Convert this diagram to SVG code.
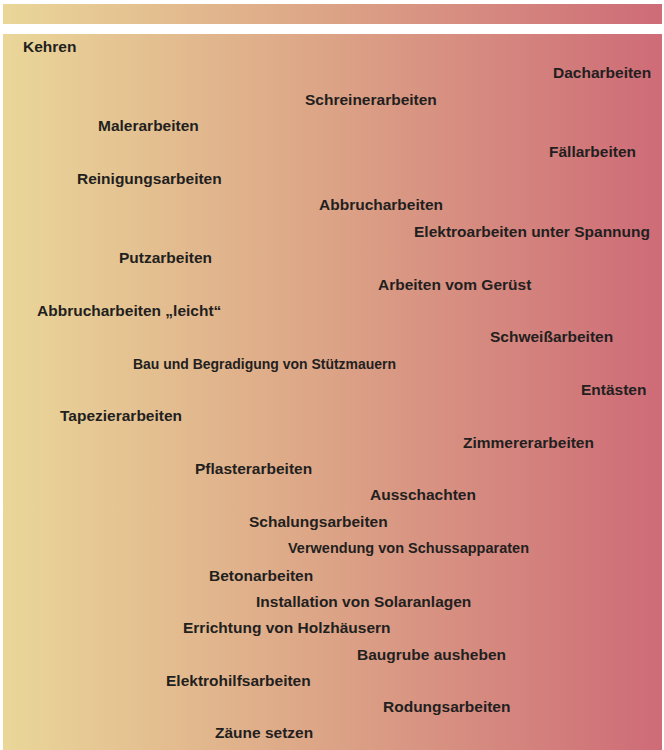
<svg xmlns="http://www.w3.org/2000/svg" width="664" height="750" viewBox="0 0 664 750">
<defs>
<linearGradient id="bg" x1="0" y1="0" x2="664" y2="0" gradientUnits="userSpaceOnUse">
<stop offset="0" stop-color="#EAD799"/>
<stop offset="0.5" stop-color="#DCA386"/>
<stop offset="1" stop-color="#CE6B77"/>
</linearGradient>
<style>
text{font-family:"Liberation Sans",Arial,sans-serif;font-weight:bold;font-size:15.5px;fill:#231F20}
</style>
</defs>
<rect x="3" y="4" width="659" height="20" fill="url(#bg)"/>
<rect x="3" y="34" width="659" height="716" fill="url(#bg)"/>
<g id="labels">
<g id="n1"><text x="23" y="52">Kehren</text></g>
<g id="n2"><text x="553" y="78">Dacharbeiten</text></g>
<g id="n3"><text x="305" y="105">Schreinerarbeiten</text></g>
<g id="n4"><text x="98" y="131">Malerarbeiten</text></g>
<g id="n5"><text x="549" y="157">Fällarbeiten</text></g>
<g id="n6"><text x="77" y="184">Reinigungsarbeiten</text></g>
<g id="n7"><text x="319" y="210">Abbrucharbeiten</text></g>
<g id="n8"><text x="414" y="237">Elektroarbeiten unter Spannung</text></g>
<g id="n9"><text x="119" y="263">Putzarbeiten</text></g>
<g id="n10"><text x="378" y="290">Arbeiten vom Gerüst</text></g>
<g id="n11"><text x="37" y="316">Abbrucharbeiten „leicht“</text></g>
<g id="n12"><text x="490" y="342">Schweißarbeiten</text></g>
<g id="n13"><text x="133" y="369" textLength="263" lengthAdjust="spacingAndGlyphs">Bau und Begradigung von Stützmauern</text></g>
<g id="n14"><text x="581" y="395">Entästen</text></g>
<g id="n15"><text x="60" y="421">Tapezierarbeiten</text></g>
<g id="n16"><text x="463" y="448">Zimmererarbeiten</text></g>
<g id="n17"><text x="195" y="474">Pflasterarbeiten</text></g>
<g id="n18"><text x="370" y="500">Ausschachten</text></g>
<g id="n19"><text x="249" y="527">Schalungsarbeiten</text></g>
<g id="n20"><text x="288" y="553" textLength="241" lengthAdjust="spacingAndGlyphs">Verwendung von Schussapparaten</text></g>
<g id="n21"><text x="209" y="581">Betonarbeiten</text></g>
<g id="n22"><text x="256" y="607">Installation von Solaranlagen</text></g>
<g id="n23"><text x="183" y="633">Errichtung von Holzhäusern</text></g>
<g id="n24"><text x="357" y="660">Baugrube ausheben</text></g>
<g id="n25"><text x="166" y="686">Elektrohilfsarbeiten</text></g>
<g id="n26"><text x="383" y="712">Rodungsarbeiten</text></g>
<g id="n27"><text x="215" y="738">Zäune setzen</text></g>
</g>
</svg>
